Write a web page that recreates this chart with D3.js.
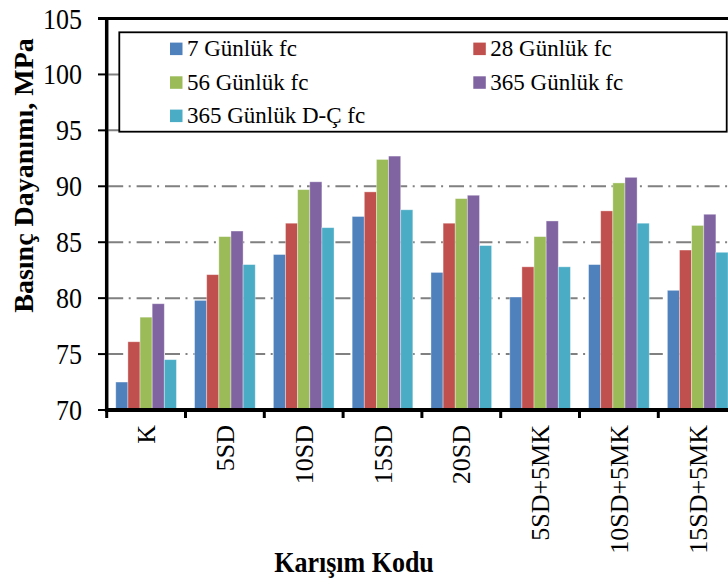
<!DOCTYPE html>
<html lang="tr">
<head>
<meta charset="utf-8">
<title>Basınç Dayanımı</title>
<script src="https://d3js.org/d3.v7.min.js"></script>
<style>
  body { margin: 0; background: #fff; }
  text { font-family: "Liberation Serif", "Times New Roman", serif; fill: #000; }
</style>
</head>
<body>
<div id="stage"></div>
<script>
// data
var categories = ["K", "5SD", "10SD", "15SD", "20SD", "5SD+5MK", "10SD+5MK", "15SD+5MK"];
var seriesNames = ["7 Günlük fc", "28 Günlük fc", "56 Günlük fc", "365 Günlük fc", "365 Günlük D-Ç fc"];
var fc7   = [72.5, 79.8, 83.9, 87.3, 82.3, 80.1, 83.0, 80.7];
var fc28  = [76.1, 82.1, 86.7, 89.5, 86.7, 82.8, 87.8, 84.3];
var fc56  = [78.3, 85.5, 89.7, 92.4, 88.9, 85.5, 90.3, 86.5];
var fc365 = [79.5, 86.0, 90.4, 92.7, 89.2, 86.9, 90.8, 87.5];
var dc365 = [74.5, 83.0, 86.3, 87.9, 84.7, 82.8, 86.7, 84.1];
var yTicks = [70, 75, 80, 85, 90, 95, 100, 105];
var colors = ["#4F81BD", "#C0504D", "#9BBB59", "#8064A2", "#4BACC6"];

var allSeries = [fc7, fc28, fc56, fc365, dc365];

var W = 728, H = 578;
var plotLeft = 106.7, plotTop = 18.5, plotBottom = 410;
var step = 78.8;

var svg = d3.select("#stage").append("svg").attr("width", W).attr("height", H);

var y = d3.scaleLinear().domain([70, 105]).range([plotBottom, plotTop]);
var x0 = d3.scaleBand().domain(categories)
  .range([plotLeft, plotLeft + step * categories.length])
  .paddingInner(0.23).paddingOuter(0.115);
var x1 = d3.scaleBand().domain(d3.range(seriesNames.length)).range([0, x0.bandwidth()]);

// gridlines
svg.append("g").selectAll("line").data(yTicks.filter(function (d) { return d > 70 && d < 105; }))
  .enter().append("line")
  .attr("x1", plotLeft + 1.5).attr("x2", W)
  .attr("y1", function (d) { return y(d); }).attr("y2", function (d) { return y(d); })
  .attr("stroke", "#808080").attr("stroke-width", 2)
  .attr("stroke-dasharray", "15,5.5,2,5.9");

// bars
var groups = svg.append("g").selectAll("g").data(categories).enter().append("g")
  .attr("transform", function (c) { return "translate(" + x0(c) + ",0)"; });
groups.selectAll("rect").data(function (c, i) {
  return allSeries.map(function (s, k) { return { k: k, v: s[i] }; });
}).enter().append("rect")
  .attr("x", function (d) { return x1(d.k); })
  .attr("width", x1.bandwidth())
  .attr("y", function (d) { return y(d.v); })
  .attr("height", function (d) { return y(70) - y(d.v); })
  .attr("fill", function (d) { return colors[d.k]; })
  .attr("stroke", "#ffffff").attr("stroke-opacity", 0.45).attr("stroke-width", 0.8);

// y axis ticks + labels
svg.append("g").selectAll("line").data(yTicks).enter().append("line")
  .attr("x1", 98).attr("x2", plotLeft)
  .attr("y1", function (d) { return y(d); }).attr("y2", function (d) { return y(d); })
  .attr("stroke", "#000").attr("stroke-width", 2);
svg.append("g").selectAll("text").data(yTicks).enter().append("text")
  .attr("transform", function (d) { return "translate(82," + y(d) + ") scale(1,1.1)"; })
  .attr("dy", "0.35em").attr("text-anchor", "end")
  .style("font-size", "26px")
  .text(function (d) { return d; });

// x axis ticks at group boundaries
var bounds = d3.range(categories.length + 1).map(function (i) { return plotLeft + i * x0.step(); });
svg.append("g").selectAll("line").data(bounds).enter().append("line")
  .attr("x1", function (d) { return d; }).attr("x2", function (d) { return d; })
  .attr("y1", plotBottom).attr("y2", 418)
  .attr("stroke", "#000").attr("stroke-width", 3);

// frame lines
svg.append("line").attr("x1", plotLeft).attr("x2", plotLeft).attr("y1", plotTop - 1.5).attr("y2", plotBottom + 2)
  .attr("stroke", "#000").attr("stroke-width", 3.5);
svg.append("line").attr("x1", plotLeft - 1.75).attr("x2", W).attr("y1", plotBottom).attr("y2", plotBottom)
  .attr("stroke", "#000").attr("stroke-width", 4);
svg.append("line").attr("x1", 98).attr("x2", W).attr("y1", plotTop).attr("y2", plotTop)
  .attr("stroke", "#000").attr("stroke-width", 3);

// category labels
svg.append("g").selectAll("text").data(categories).enter().append("text")
  .attr("transform", function (c) {
    return "translate(" + (x0(c) + x0.bandwidth() / 2) + ",425) rotate(-90)";
  })
  .attr("text-anchor", "end").attr("dy", "0.35em")
  .style("font-size", "26px")
  .text(function (c) { return c; });

// axis titles
svg.append("text").attr("transform", "translate(33,175.5) rotate(-90)")
  .attr("text-anchor", "middle")
  .style("font-size", "28px").style("font-weight", "bold")
  .text("Basınç Dayanımı, MPa");
svg.append("text").attr("transform", "translate(354,572) scale(1,1.12)")
  .attr("text-anchor", "middle")
  .style("font-size", "26px").style("font-weight", "bold")
  .text("Karışım Kodu");

// legend
var legend = svg.append("g");
legend.append("rect").attr("x", 119.3).attr("y", 32.3).attr("width", 607.4).attr("height", 99.4)
  .attr("fill", "#fff").attr("stroke", "#000").attr("stroke-width", 1.8);
var legX = [170, 473.3], legY = [48.8, 82.5, 115.8];
var items = legend.selectAll("g").data(seriesNames).enter().append("g")
  .attr("transform", function (d, i) {
    return "translate(" + legX[i % 2] + "," + legY[Math.floor(i / 2)] + ")";
  });
items.append("rect").attr("x", 0).attr("y", -6.2).attr("width", 12.5).attr("height", 12.5)
  .attr("fill", function (d, i) { return colors[i]; });
items.append("text").attr("x", 17).attr("y", 0).attr("dy", "0.33em")
  .style("font-size", "23px")
  .text(function (d) { return d; });
</script>
</body>
</html>
